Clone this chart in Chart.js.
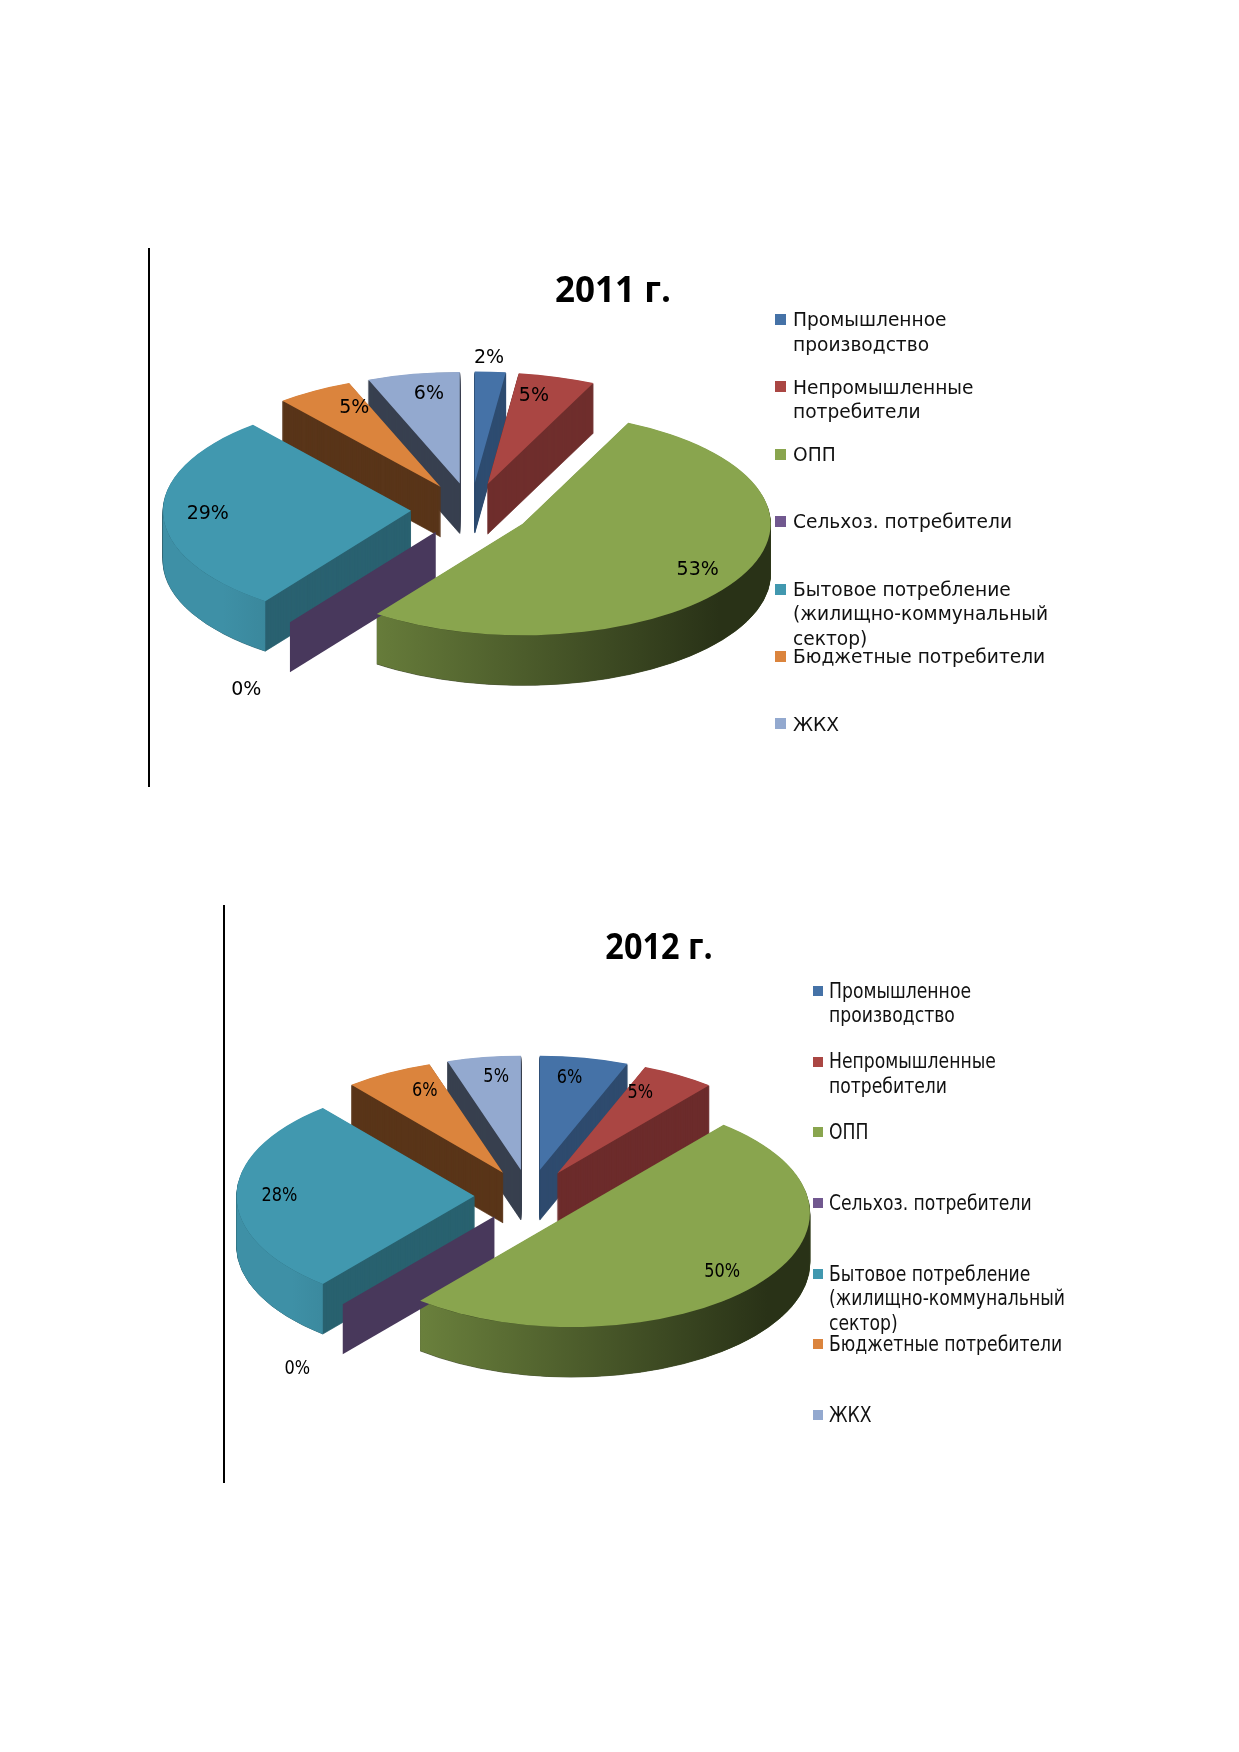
<!DOCTYPE html>
<html lang="ru">
<head>
<meta charset="utf-8">
<script src="https://cdn.jsdelivr.net/npm/chart.js@4.4.1/dist/chart.umd.min.js"></script>
<style>
  body { margin: 0; width: 1239px; height: 1752px; background: #fff; position: relative; overflow: hidden; }
  .frame { position: absolute; border-left: 2px solid #000; }
  .frame canvas { position: absolute; left: 0; top: 0; }
  .title { position: absolute; font-family: "Open Sans", sans-serif; font-weight: 700; white-space: nowrap; line-height: 1; color: #000; }
  .item { position: absolute; display: flex; align-items: flex-start; font-family: "DejaVu Sans", sans-serif; color: #111; }
  .box { flex: none; display: block; }
  .text { display: block; transform-origin: 0 0; }
</style>
</head>
<body>
<div class="frame" id="frame1" style="left:148px; top:248px; width:936px; height:539px;">
  <canvas id="pie2011" width="936" height="539"></canvas>
</div>
<div class="frame" id="frame2" style="left:223px; top:905px; width:878px; height:578px;">
  <canvas id="pie2012" width="878" height="578"></canvas>
</div>
<script>
const categories = [
  'Промышленное производство',
  'Непромышленные потребители',
  'ОПП',
  'Сельхоз. потребители',
  'Бытовое потребление (жилищно-коммунальный сектор)',
  'Бюджетные потребители',
  'ЖКХ'
];
const values2011 = [2, 5, 53, 0, 29, 5, 6];
const values2012 = [6, 5, 50, 0, 28, 6, 5];
const colors = ['#4572A7', '#AA4643', '#89A54E', '#71588F', '#4198AF', '#DB843D', '#93A9CF'];

function shade(hex, f) {
  const n = parseInt(hex.slice(1), 16);
  const r = Math.round(((n >> 16) & 255) * f);
  const g = Math.round(((n >> 8) & 255) * f);
  const b = Math.round((n & 255) * f);
  return `rgb(${r},${g},${b})`;
}

// brightness of the cut face that turns most towards the viewer
function faceShade(a) {
  const front0 = -Math.cos(a.startAngle), front1 = Math.cos(a.endAngle);
  const nx = front0 >= front1 ? Math.sin(a.startAngle) : -Math.sin(a.endAngle);
  return 0.52 + 0.15 * nx;
}

// tilted, exploded pie with depth; the arcs come from the chart's own layout
const pie3d = {
  id: 'pie3d',
  beforeDatasetsDraw(chart, args, opts) {
    const ctx = chart.ctx;
    const arcs = chart.getDatasetMeta(0).data;
    if (!arcs.length) return;
    const cx = arcs[0].x, cy = arcs[0].y, R = arcs[0].outerRadius;
    const k = opts.tilt, e = opts.explode, h = opts.depth / k;

    const paint = (arc, fill, dy, line) => {
      const mid = (arc.startAngle + arc.endAngle) / 2;
      const saved = arc.options;
      arc.options = Object.assign({}, saved, {backgroundColor: fill, borderColor: fill, borderWidth: line});
      ctx.save();
      ctx.translate(Math.cos(mid) * e, Math.sin(mid) * e + dy);
      arc.draw(ctx);
      ctx.restore();
      arc.options = saved;
    };

    ctx.save();
    ctx.translate(cx, cy);
    ctx.scale(1, k);
    ctx.translate(-cx, -cy);

    // solid body (shows as the cut faces)
    const body = arcs.map(a => shade(a.options.backgroundColor, faceShade(a)));
    for (let d = opts.depth; d > 0; d -= 1) {
      arcs.forEach((a, i) => paint(a, body[i], d / k, 1));
    }

    // curved outer side, front half only
    arcs.forEach(a => {
      const a0 = Math.max(a.startAngle, 0), a1 = Math.min(a.endAngle, Math.PI);
      if (a1 <= a0) return;
      const mid = (a.startAngle + a.endAngle) / 2;
      const x = cx + Math.cos(mid) * e, y = cy + Math.sin(mid) * e;
      const g = ctx.createLinearGradient(cx - R, 0, cx + R, 0);
      g.addColorStop(0, shade(a.options.backgroundColor, 0.95));
      g.addColorStop(1, shade(a.options.backgroundColor, 0.3));
      ctx.beginPath();
      ctx.arc(x, y, R, a0, a1);
      ctx.arc(x, y + h, R, a1, a0, true);
      ctx.closePath();
      ctx.fillStyle = g;
      ctx.fill();
    });

    // empty slice: only its cut face shows
    arcs.forEach(a => {
      if (a.endAngle - a.startAngle > 0) return;
      const ang = a.startAngle;
      const ox = cx + Math.cos(ang) * e, oy = cy + Math.sin(ang) * e;
      const tx = ox + Math.cos(ang) * R, ty = oy + Math.sin(ang) * R;
      ctx.beginPath();
      ctx.moveTo(ox, oy);
      ctx.lineTo(tx, ty);
      ctx.lineTo(tx, ty + h);
      ctx.lineTo(ox, oy + h);
      ctx.closePath();
      ctx.fillStyle = shade(a.options.backgroundColor, 0.52 + 0.15 * Math.abs(Math.sin(ang)));
      ctx.fill();
    });

    arcs.forEach(a => paint(a, a.options.backgroundColor, 0, 0));
    ctx.restore();
    return false;
  },
  afterDraw(chart, args, opts) {
    const ctx = chart.ctx;
    const arcs = chart.getDatasetMeta(0).data;
    const values = chart.data.datasets[0].data;
    const cx = arcs[0].x, cy = arcs[0].y, R = arcs[0].outerRadius;
    const k = opts.tilt, e = opts.explode;
    ctx.save();
    ctx.font = opts.labelFont;
    ctx.fillStyle = '#000';
    ctx.textAlign = 'center';
    ctx.textBaseline = 'middle';
    arcs.forEach((a, i) => {
      const v = values[i];
      const mid = (a.startAngle + a.endAngle) / 2;
      const f = v === 0 ? 1.3 : (v < 3 ? 1.12 : 0.82);
      const r = e + f * R;
      const s = Math.sin(mid);
      let y = cy + s * r * k;
      if (f > 1) y += opts.depth * Math.max(0, s);
      // far side looks narrower
      const x = cx + Math.cos(mid) * r * (1 + 0.15 * Math.min(0, s));
      ctx.save();
      ctx.translate(x, y);
      ctx.scale(opts.labelScaleX, 1);
      ctx.fillText(v + '%', 0, 0);
      ctx.restore();
    });
    ctx.restore();
  }
};

function makePie(canvasId, values, cfg) {
  return new Chart(document.getElementById(canvasId), {
    type: 'pie',
    data: {
      labels: categories,
      datasets: [{
        data: values,
        backgroundColor: colors,
        borderWidth: 0,
        radius: cfg.radius
      }]
    },
    options: {
      responsive: false,
      animation: false,
      events: [],
      layout: {padding: cfg.padding},
      plugins: {
        legend: {display: false},
        tooltip: {enabled: false},
        pie3d: cfg.pie
      }
    },
    plugins: [pie3d]
  });
}

function addTitle(frame, text, t) {
  const el = document.createElement('div');
  el.className = 'title';
  el.textContent = text;
  el.style.fontSize = t.size + 'px';
  el.style.left = t.x + 'px';
  el.style.top = t.y + 'px';
  el.style.transform = `translate(-50%, -50%) scaleX(${t.sx})`;
  frame.append(el);
}

function addLegend(frame, lg) {
  categories.forEach((name, i) => {
    const item = document.createElement('div');
    item.className = 'item';
    item.style.left = lg.x + 'px';
    item.style.top = (lg.y + i * lg.step - lg.lh / 2) + 'px';
    item.style.fontSize = lg.size + 'px';
    item.style.lineHeight = lg.lh + 'px';
    const box = document.createElement('span');
    box.className = 'box';
    box.style.background = colors[i];
    box.style.width = box.style.height = lg.box + 'px';
    box.style.marginTop = ((lg.lh - lg.box) / 2) + 'px';
    const text = document.createElement('span');
    text.className = 'text';
    text.textContent = name;
    text.style.marginLeft = lg.gap + 'px';
    text.style.width = lg.wrap + 'px';
    text.style.transform = `scaleX(${lg.sx})`;
    item.append(box, text);
    frame.append(item);
  });
}

const frame1 = document.getElementById('frame1');
const frame2 = document.getElementById('frame2');

addTitle(frame1, '2011 г.', {x: 463, y: 40, size: 35, sx: 1});
addTitle(frame2, '2012 г.', {x: 434, y: 41, size: 36, sx: 0.9});

addLegend(frame1, {x: 625, y: 71.5, step: 67.4, lh: 24.6, size: 19, box: 11, gap: 7, wrap: 285, sx: 0.98});
addLegend(frame2, {x: 588, y: 86, step: 70.7, lh: 24.6, size: 21, box: 10, gap: 6, wrap: 300, sx: 0.82});

makePie('pie2011', values2011, {
  radius: 248,
  padding: {left: 0, right: 294, top: 0, bottom: 15},
  pie: {tilt: 0.45, explode: 60, depth: 50, labelFont: '19px "DejaVu Sans"', labelScaleX: 1}
});
makePie('pie2012', values2012, {
  radius: 238,
  padding: {left: 0, right: 269, top: 4, bottom: 0},
  pie: {tilt: 0.48, explode: 55, depth: 50, labelFont: '19px "DejaVu Sans"', labelScaleX: 0.85}
});
</script>
</body>
</html>
